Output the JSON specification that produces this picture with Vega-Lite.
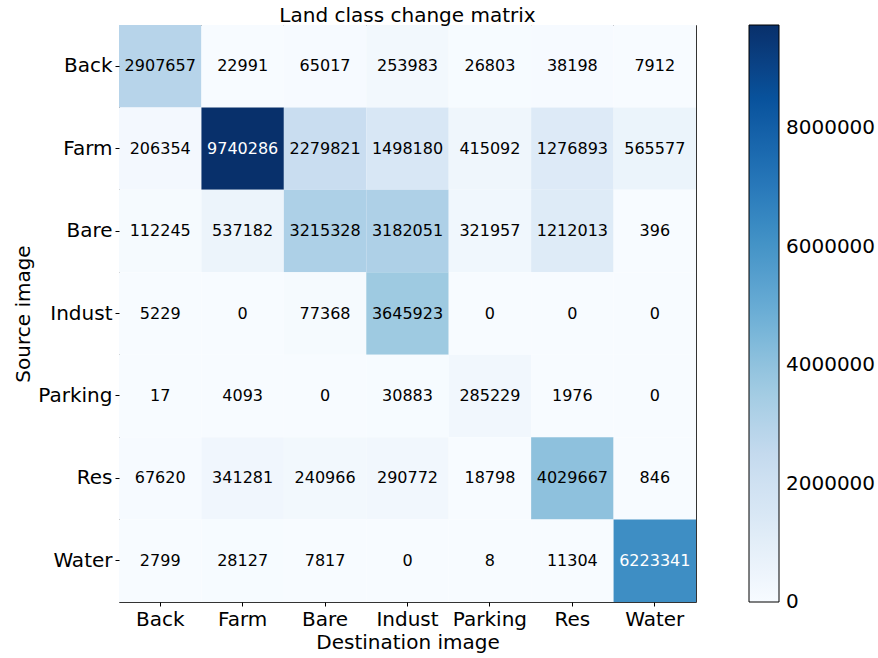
{
  "$schema": "https://vega.github.io/schema/vega-lite/v6.json",
  "width": 577,
  "height": 577,
  "autosize": "none",
  "padding": {"left": 119, "top": 25, "right": 182, "bottom": 56},
  "background": "white",
  "title": {"text": "Land class change matrix", "fontSize": 20, "font": "DejaVu Sans", "fontWeight": "normal", "color": "black", "baseline": "alphabetic", "offset": 4, "dy": 21},
  "config": {
    "font": "DejaVu Sans",
    "view": {"stroke": "#333", "strokeWidth": 1},
    "axis": {"labelFont": "DejaVu Sans", "labelFontSize": 20, "labelColor": "black", "titleFont": "DejaVu Sans", "titleFontSize": 20, "titleFontWeight": "normal", "titleColor": "black", "tickColor": "black", "tickSize": 4, "domain": false, "grid": false, "labelAngle": 0}
  },
  "data": {"values": [
    {"src": "Back", "dst": "Back", "count": 2907657},
    {"src": "Back", "dst": "Farm", "count": 22991},
    {"src": "Back", "dst": "Bare", "count": 65017},
    {"src": "Back", "dst": "Indust", "count": 253983},
    {"src": "Back", "dst": "Parking", "count": 26803},
    {"src": "Back", "dst": "Res", "count": 38198},
    {"src": "Back", "dst": "Water", "count": 7912},
    {"src": "Farm", "dst": "Back", "count": 206354},
    {"src": "Farm", "dst": "Farm", "count": 9740286},
    {"src": "Farm", "dst": "Bare", "count": 2279821},
    {"src": "Farm", "dst": "Indust", "count": 1498180},
    {"src": "Farm", "dst": "Parking", "count": 415092},
    {"src": "Farm", "dst": "Res", "count": 1276893},
    {"src": "Farm", "dst": "Water", "count": 565577},
    {"src": "Bare", "dst": "Back", "count": 112245},
    {"src": "Bare", "dst": "Farm", "count": 537182},
    {"src": "Bare", "dst": "Bare", "count": 3215328},
    {"src": "Bare", "dst": "Indust", "count": 3182051},
    {"src": "Bare", "dst": "Parking", "count": 321957},
    {"src": "Bare", "dst": "Res", "count": 1212013},
    {"src": "Bare", "dst": "Water", "count": 396},
    {"src": "Indust", "dst": "Back", "count": 5229},
    {"src": "Indust", "dst": "Farm", "count": 0},
    {"src": "Indust", "dst": "Bare", "count": 77368},
    {"src": "Indust", "dst": "Indust", "count": 3645923},
    {"src": "Indust", "dst": "Parking", "count": 0},
    {"src": "Indust", "dst": "Res", "count": 0},
    {"src": "Indust", "dst": "Water", "count": 0},
    {"src": "Parking", "dst": "Back", "count": 17},
    {"src": "Parking", "dst": "Farm", "count": 4093},
    {"src": "Parking", "dst": "Bare", "count": 0},
    {"src": "Parking", "dst": "Indust", "count": 30883},
    {"src": "Parking", "dst": "Parking", "count": 285229},
    {"src": "Parking", "dst": "Res", "count": 1976},
    {"src": "Parking", "dst": "Water", "count": 0},
    {"src": "Res", "dst": "Back", "count": 67620},
    {"src": "Res", "dst": "Farm", "count": 341281},
    {"src": "Res", "dst": "Bare", "count": 240966},
    {"src": "Res", "dst": "Indust", "count": 290772},
    {"src": "Res", "dst": "Parking", "count": 18798},
    {"src": "Res", "dst": "Res", "count": 4029667},
    {"src": "Res", "dst": "Water", "count": 846},
    {"src": "Water", "dst": "Back", "count": 2799},
    {"src": "Water", "dst": "Farm", "count": 28127},
    {"src": "Water", "dst": "Bare", "count": 7817},
    {"src": "Water", "dst": "Indust", "count": 0},
    {"src": "Water", "dst": "Parking", "count": 8},
    {"src": "Water", "dst": "Res", "count": 11304},
    {"src": "Water", "dst": "Water", "count": 6223341}
  ]},
  "encoding": {
    "x": {"field": "dst", "type": "nominal", "sort": ["Back", "Farm", "Bare", "Indust", "Parking", "Res", "Water"], "scale": {"paddingInner": 0, "paddingOuter": 0}, "axis": {"orient": "bottom", "title": "Destination image", "labelPadding": 3, "titlePadding": 3}},
    "y": {"field": "src", "type": "nominal", "sort": ["Back", "Farm", "Bare", "Indust", "Parking", "Res", "Water"], "scale": {"paddingInner": 0, "paddingOuter": 0}, "axis": {"title": "Source image", "labelPadding": 3, "titlePadding": 4}}
  },
  "layer": [
    {
      "mark": {"type": "rect"},
      "encoding": {
        "color": {"field": "count", "type": "quantitative",
          "scale": {"type": "linear", "domain": [0, 9740286], "range": ["#f7fbff", "#deebf7", "#c6dbef", "#9ecae1", "#6baed6", "#4292c6", "#2171b5", "#08519c", "#08306b"]},
          "legend": {"title": null, "orient": "right", "direction": "vertical", "gradientLength": 577, "gradientThickness": 30, "offset": 53, "values": [0, 2000000, 4000000, 6000000, 8000000], "format": "d", "labelFont": "DejaVu Sans", "labelFontSize": 20, "labelColor": "black", "labelOffset": 7, "labelOverlap": false, "labelBaseline": "middle", "gradientStrokeColor": "black", "gradientStrokeWidth": 1, "padding": 0,
            "encode": {"labels": {"update": {"baseline": {"value": "middle"}}}}}
        }
      }
    },
    {
      "mark": {"type": "text", "fontSize": 16, "font": "DejaVu Sans", "baseline": "middle", "align": "center"},
      "encoding": {
        "text": {"field": "count", "type": "quantitative", "format": "d"},
        "color": {"condition": {"test": "datum.count > 4870143", "value": "white"}, "value": "black"}
      }
    }
  ]
}
